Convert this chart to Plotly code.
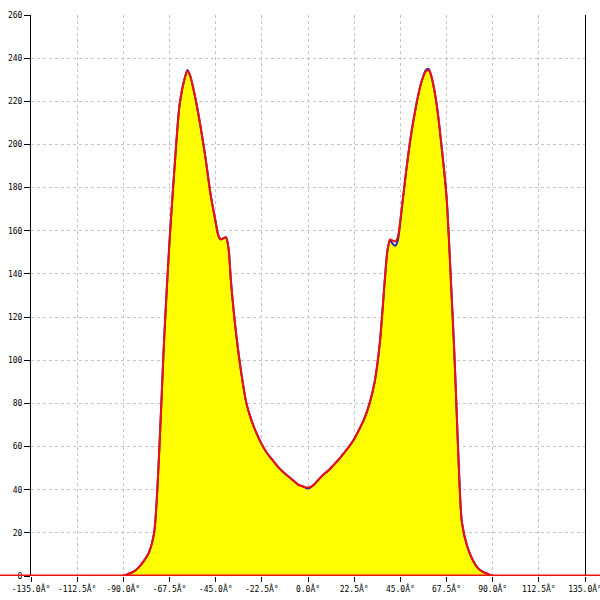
import plotly.graph_objects as go

angles = [-90, -87.5, -85, -82.5, -80, -77.5, -75, -73.75, -72.5, -71.25, -70, -67.5, -65, -62.5, -60, -58.75,
          -57.5, -55, -52.5, -50, -47.5, -45, -43.75, -42.5, -41.25, -40, -38.75, -37.5, -35, -32.5, -30,
          -27.5, -25, -22.5, -20, -17.5, -15, -12.5, -10, -7.5, -5, -2.5, 0, 2.5, 5, 7.5, 10, 12.5, 15,
          17.5, 20, 22.5, 25, 27.5, 30, 32.5, 35, 37.5, 38.75, 40, 41.25, 42.5, 43.75, 45, 47.5, 50, 52.5,
          55, 57.5, 58.75, 60, 62.5, 65, 67.5, 70, 71.25, 72.5, 73.75, 75, 77.5, 80, 82.5, 85, 87.5, 90]

fit_counts = [0, 1, 2, 4, 7, 11, 20, 35, 58, 85, 112, 155, 190, 219, 231, 234,
              232, 222, 209, 194, 177, 164, 158, 156, 156.5, 157, 152, 136, 112, 94, 80,
              72, 66, 61, 57, 54, 51, 48.5, 46.5, 44.5, 42.5, 41.5, 41, 42, 44.5, 47, 49, 51.5, 54,
              57, 60, 63.5, 68, 73, 80, 90, 108, 138, 151, 156, 155.5, 155, 157, 165, 185, 203, 217,
              228, 234, 234.5, 232, 220, 200, 176, 130, 105, 75, 45, 25, 14, 8, 4, 2, 1, 0]

data_counts = [0, 1, 2, 4, 7, 11, 20, 35, 58, 85, 112, 155, 190, 219, 231, 234.5,
               232, 222, 209, 194, 177, 164, 158, 156, 156.5, 157, 152, 136, 112, 94, 80,
               72, 66, 61, 57, 54, 51, 48.5, 46.5, 44.5, 42.5, 41.5, 40.5, 42, 44.5, 47, 49, 51.5, 54,
               57, 60, 63.5, 68, 73, 80, 90, 108, 138, 151, 155.5, 154, 153, 155.5, 164, 185, 203, 217,
               228, 234.5, 235, 232, 220, 200, 176, 130, 105, 75, 45, 25, 14, 8, 4, 2, 1, 0]

x_ticks = [-135, -112.5, -90, -67.5, -45, -22.5, 0, 22.5, 45, 67.5, 90, 112.5, 135]
x_tick_text = ["-135.0Â°", "-112.5Â°", "-90.0Â°", "-67.5Â°", "-45.0Â°", "-22.5Â°", "0.0Â°",
               "22.5Â°", "45.0Â°", "67.5Â°", "90.0Â°", "112.5Â°", "135.0Â°"]
y_ticks = list(range(0, 261, 20))

fig = go.Figure()
fig.add_trace(go.Scatter(x=angles, y=data_counts, mode="lines",
                         line=dict(color="#2020c0", width=2, shape="spline", smoothing=0.8),
                         fill="tozeroy", fillcolor="#ffff00", showlegend=False))
fig.add_trace(go.Scatter(x=angles, y=fit_counts, mode="lines",
                         line=dict(color="#ee1111", width=2, shape="spline", smoothing=0.8),
                         showlegend=False))

L, R, T, B = 31, 15, 15, 24
pw = 600 - L - R
fig.add_shape(type="line", xref="paper", yref="y", x0=-L / pw, x1=1 + R / pw, y0=0, y1=0,
              line=dict(color="#ee1111", width=3), layer="above")

font = dict(family="DejaVu Sans Mono", size=8, color="black")
fig.update_layout(
    width=600, height=600, margin=dict(l=L, r=R, t=T, b=B, autoexpand=False),
    paper_bgcolor="white", plot_bgcolor="white",
    xaxis=dict(range=[-135, 135], tickvals=x_ticks, ticktext=x_tick_text, ticks="outside", ticklen=5,
               tickcolor="black", showline=False, zeroline=False,
               automargin=False, ticklabeloverflow="allow",
               showgrid=True, gridcolor="#c4c4c4", griddash="3px,3px", gridwidth=1, tickfont=font),
    yaxis=dict(range=[0, 260], tickvals=y_ticks, ticks="outside", ticklen=6, tickcolor="black",
               showline=True, linecolor="black", linewidth=1, mirror=True, zeroline=False,
               automargin=False, ticklabeloverflow="allow",
               showgrid=True, gridcolor="#c4c4c4", griddash="3px,3px", gridwidth=1, tickfont=font),
)
fig.write_html("out.html", config={"displayModeBar": False},
               post_script="document.body.style.margin='0';document.body.style.overflow='hidden';")
